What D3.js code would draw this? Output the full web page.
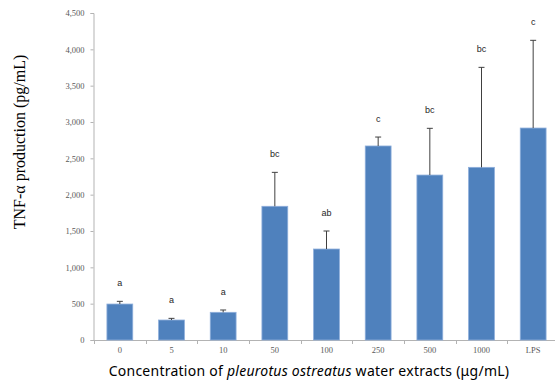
<!DOCTYPE html>
<html>
<head>
<meta charset="utf-8">
<script src="https://cdn.jsdelivr.net/npm/d3@7"></script>
<style>
  body { margin: 0; background: #fff; }
</style>
</head>
<body>
<div id="chart"></div>
<script>
// ─── Data ───
const categories = ["0", "5", "10", "50", "100", "250", "500", "1000", "LPS"];
const means      = [495, 275, 381, 1840, 1252, 2670, 2270, 2376, 2917];
const errors     = [37, 23, 32, 467, 248, 123, 643, 1376, 1207];
const letters    = ["a", "a", "a", "bc", "ab", "c", "bc", "bc", "c"];
const yTicks     = [0, 500, 1000, 1500, 2000, 2500, 3000, 3500, 4000, 4500];

const width = 555, height = 382;
const margin = { top: 13, right: -4, bottom: 42, left: 94 };

const svg = d3.select("#chart").append("svg")
  .attr("width", width).attr("height", height);

svg.append("rect")
  .attr("width", width).attr("height", height)
  .attr("fill", "#fff");

const data = categories.map((c, i) => ({ cat: c, mean: means[i], err: errors[i], letter: letters[i] }));

const x = d3.scaleBand()
  .domain(categories)
  .range([margin.left, width - margin.right])
  .paddingInner(0.5)
  .paddingOuter(0.25);

const y = d3.scaleLinear()
  .domain([0, 4500])
  .range([height - margin.bottom, margin.top]);

const axisColor = "#b3b3b3";

// y axis
const yAxis = svg.append("g")
  .attr("transform", `translate(${margin.left - 0.5},0)`)
  .call(d3.axisLeft(y).tickValues(yTicks).tickSize(3).tickPadding(6)
    .tickFormat(d3.format(",")));
yAxis.select(".domain").attr("stroke", axisColor);
yAxis.selectAll(".tick line").attr("stroke", axisColor);
yAxis.selectAll("text")
  .attr("fill", "#595959")
  .attr("font-family", "'Liberation Serif', serif")
  .attr("font-size", 8.5);

// x axis: baseline + ticks at band boundaries
const xAxisG = svg.append("g");
xAxisG.append("line")
  .attr("x1", margin.left - 0.5).attr("x2", width)
  .attr("y1", y(0) + 0.5).attr("y2", y(0) + 0.5)
  .attr("stroke", axisColor);
xAxisG.selectAll(".xtick")
  .data(categories.map(c => x(c) - x.bandwidth() / 2))
  .enter().append("line")
    .attr("class", "xtick")
    .attr("x1", d => Math.round(d) + 0.5).attr("x2", d => Math.round(d) + 0.5)
    .attr("y1", y(0)).attr("y2", y(0) + 4)
    .attr("stroke", axisColor);
xAxisG.selectAll(".xlabel")
  .data(categories).enter().append("text")
    .attr("x", d => x(d) + x.bandwidth() / 2)
    .attr("y", y(0) + 13)
    .attr("text-anchor", "middle")
    .attr("fill", "#595959")
    .attr("font-family", "'Liberation Serif', serif")
    .attr("font-size", 8.5)
    .text(d => d);

// bars
svg.selectAll(".bar")
  .data(data).enter().append("rect")
    .attr("class", "bar")
    .attr("x", d => x(d.cat))
    .attr("y", d => y(d.mean))
    .attr("width", x.bandwidth())
    .attr("height", d => y(0) - y(d.mean))
    .attr("fill", "#4f81bd")
    .attr("stroke", "#8eaedb")
    .attr("stroke-width", 0.8);

// error bars (upper only)
const eb = svg.selectAll(".err").data(data).enter().append("g");
eb.append("line")
  .attr("x1", d => x(d.cat) + x.bandwidth() / 2)
  .attr("x2", d => x(d.cat) + x.bandwidth() / 2)
  .attr("y1", d => y(d.mean))
  .attr("y2", d => y(d.mean + d.err))
  .attr("stroke", "#404040").attr("stroke-width", 1);
eb.append("line")
  .attr("x1", d => x(d.cat) + x.bandwidth() / 2 - 3)
  .attr("x2", d => x(d.cat) + x.bandwidth() / 2 + 3)
  .attr("y1", d => y(d.mean + d.err))
  .attr("y2", d => y(d.mean + d.err))
  .attr("stroke", "#404040").attr("stroke-width", 1);

// significance letters
svg.selectAll(".letter")
  .data(data).enter().append("text")
    .attr("x", d => x(d.cat) + x.bandwidth() / 2)
    .attr("y", d => y(d.mean + d.err) - 15)
    .attr("text-anchor", "middle")
    .attr("fill", "#262626")
    .attr("font-family", "'Liberation Sans', Arial, sans-serif")
    .attr("font-size", 9)
    .text(d => d.letter);

// y title
svg.append("text")
  .attr("transform", "translate(25,142) rotate(-90)")
  .attr("text-anchor", "middle")
  .attr("fill", "#000")
  .attr("font-family", "'Liberation Serif', serif")
  .attr("font-size", 16)
  .text("TNF-α production  (pg/mL)");

// x title
const xt = svg.append("text")
  .attr("x", 309).attr("y", 376)
  .attr("text-anchor", "middle")
  .attr("fill", "#000")
  .attr("font-family", "'Noto Sans', sans-serif")
  .attr("font-size", 14)
  .attr("letter-spacing", 0.25);
xt.append("tspan").text("Concentration of ");
xt.append("tspan").attr("font-style", "italic").text("pleurotus ostreatus");
xt.append("tspan").text(" water extracts (μg/mL)");
</script>
</body>
</html>
